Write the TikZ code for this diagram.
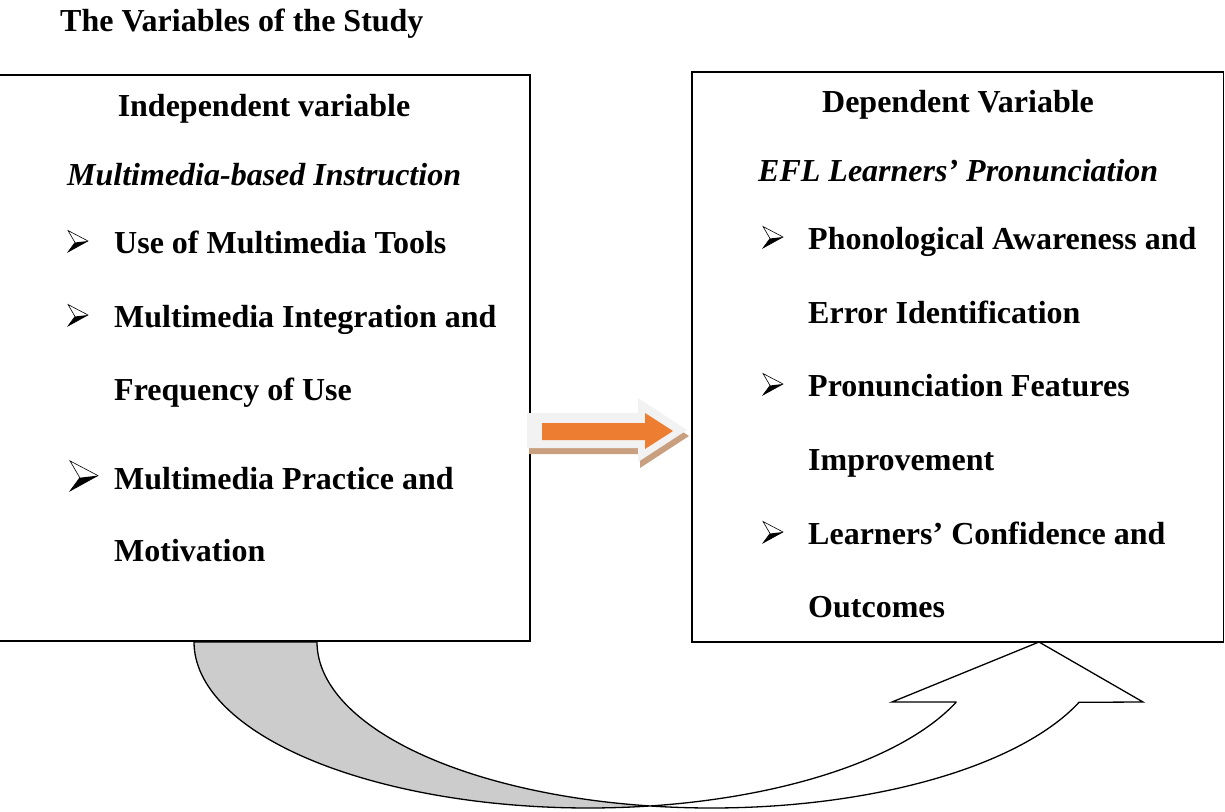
\documentclass[tikz,border=0pt]{standalone}
\usepackage{fontspec}
\setmainfont{Liberation Serif}
\definecolor{arrowOrange}{RGB}{237,125,49}
\definecolor{arrowLight}{RGB}{242,242,242}
\definecolor{arrowShadow}{RGB}{200,160,128}
\definecolor{bandGray}{RGB}{204,204,204}
\begin{document}
\begin{tikzpicture}[x=1pt,y=-1pt,
  txt/.style={inner sep=0pt, anchor=base west, font=\fontsize{32}{38}\selectfont\bfseries},
  headtxt/.style={txt, anchor=base},
  emphtxt/.style={txt, font=\fontsize{32}{38}\selectfont\bfseries\itshape},
  box/.style={draw, line width=1.6pt, inner sep=0pt},
  outline/.style={draw, line width=1.3pt, line join=miter},
  bullet/.pic={
    \draw[line width=0.6pt, line join=miter, fill=white]
      (0,-21.5) -- (20,-11) -- (0,0) -- (7,-9.5) -- cycle;
    \fill (7,-9.5) -- (20,-11) -- (0,0) -- (3,-4) -- cycle;
  }
]
\useasboundingbox (0,0) rectangle (1225,811);

% title
\node[txt] (title) at (60,31) {The Variables of the Study};

% the two variable boxes
\node[box, minimum width=532pt, minimum height=566pt] (indbox) at (264,358) {};
\node[box, minimum width=531.5pt, minimum height=570pt] (depbox) at (957.75,357) {};

% independent variable
\node[headtxt] (indhead) at (264,116) {Independent variable};
\node[emphtxt] (indsub) at (67,185) {Multimedia-based Instruction};
\pic at (68,252) {bullet};
\node[txt] (ind1) at (114,253) {Use of Multimedia Tools};
\pic at (68,326) {bullet};
\node[txt] (ind2a) at (114,327) {Multimedia Integration and};
\node[txt] (ind2b) at (114,400) {Frequency of Use};
\pic[scale=1.4] at (70,491) {bullet};
\node[txt] (ind3a) at (114,489) {Multimedia Practice and};
\node[txt] (ind3b) at (114,561) {Motivation};

% dependent variable
\node[headtxt] (dephead) at (958,112) {Dependent Variable};
\node[emphtxt] (depsub) at (758,181) {EFL Learners’ Pronunciation};
\pic at (763,248) {bullet};
\node[txt] (dep1a) at (808,249) {Phonological Awareness and};
\node[txt] (dep1b) at (808,323) {Error Identification};
\pic at (763,395) {bullet};
\node[txt] (dep2a) at (808,396) {Pronunciation Features};
\node[txt] (dep2b) at (808,470) {Improvement};
\pic at (763,543) {bullet};
\node[txt] (dep3a) at (808,544) {Learners’ Confidence and};
\node[txt] (dep3b) at (808,617) {Outcomes};

% block arrow between the boxes: shadow, light body, orange core
\fill[arrowShadow] (529,419) -- (640,419) -- (640,404) -- (689,436) -- (640,468)
  -- (640,454) -- (529,454) -- cycle;
\fill[arrowLight] (527,413) -- (638,413) -- (638,398) -- (687,430) -- (638,462)
  -- (638,448) -- (527,448) -- cycle;
\fill[arrowOrange] (542,423) -- (645,423) -- (645,413) -- (673,431) -- (645,449)
  -- (645,440) -- (542,440) -- cycle;

% curved arrow under the boxes, from the independent to the dependent box
\coordinate (bandstart) at (194,642);
\coordinate (cusp) at (650,806);
\coordinate (tip) at (1039,642);
\path[outline, fill=bandGray]
  plot[domain=-180:-81, samples=70] ({588.5+394.5*cos(\x)},{642-166*sin(\x)})
  -- plot[domain=99:180, samples=70] ({711.5+394.5*cos(\x)},{642+166*sin(\x)})
  -- cycle;
\path[outline, fill=white]
  plot[domain=-99:-21.3, samples=70] ({711.5+394.5*cos(\x)},{642-166*sin(\x)})
  -- (1143,702) -- (tip) -- (892,702) -- (956,702)
  -- plot[domain=21.3:81, samples=70] ({588.5+394.5*cos(\x)},{642+166*sin(\x)})
  -- cycle;
\end{tikzpicture}
\end{document}
